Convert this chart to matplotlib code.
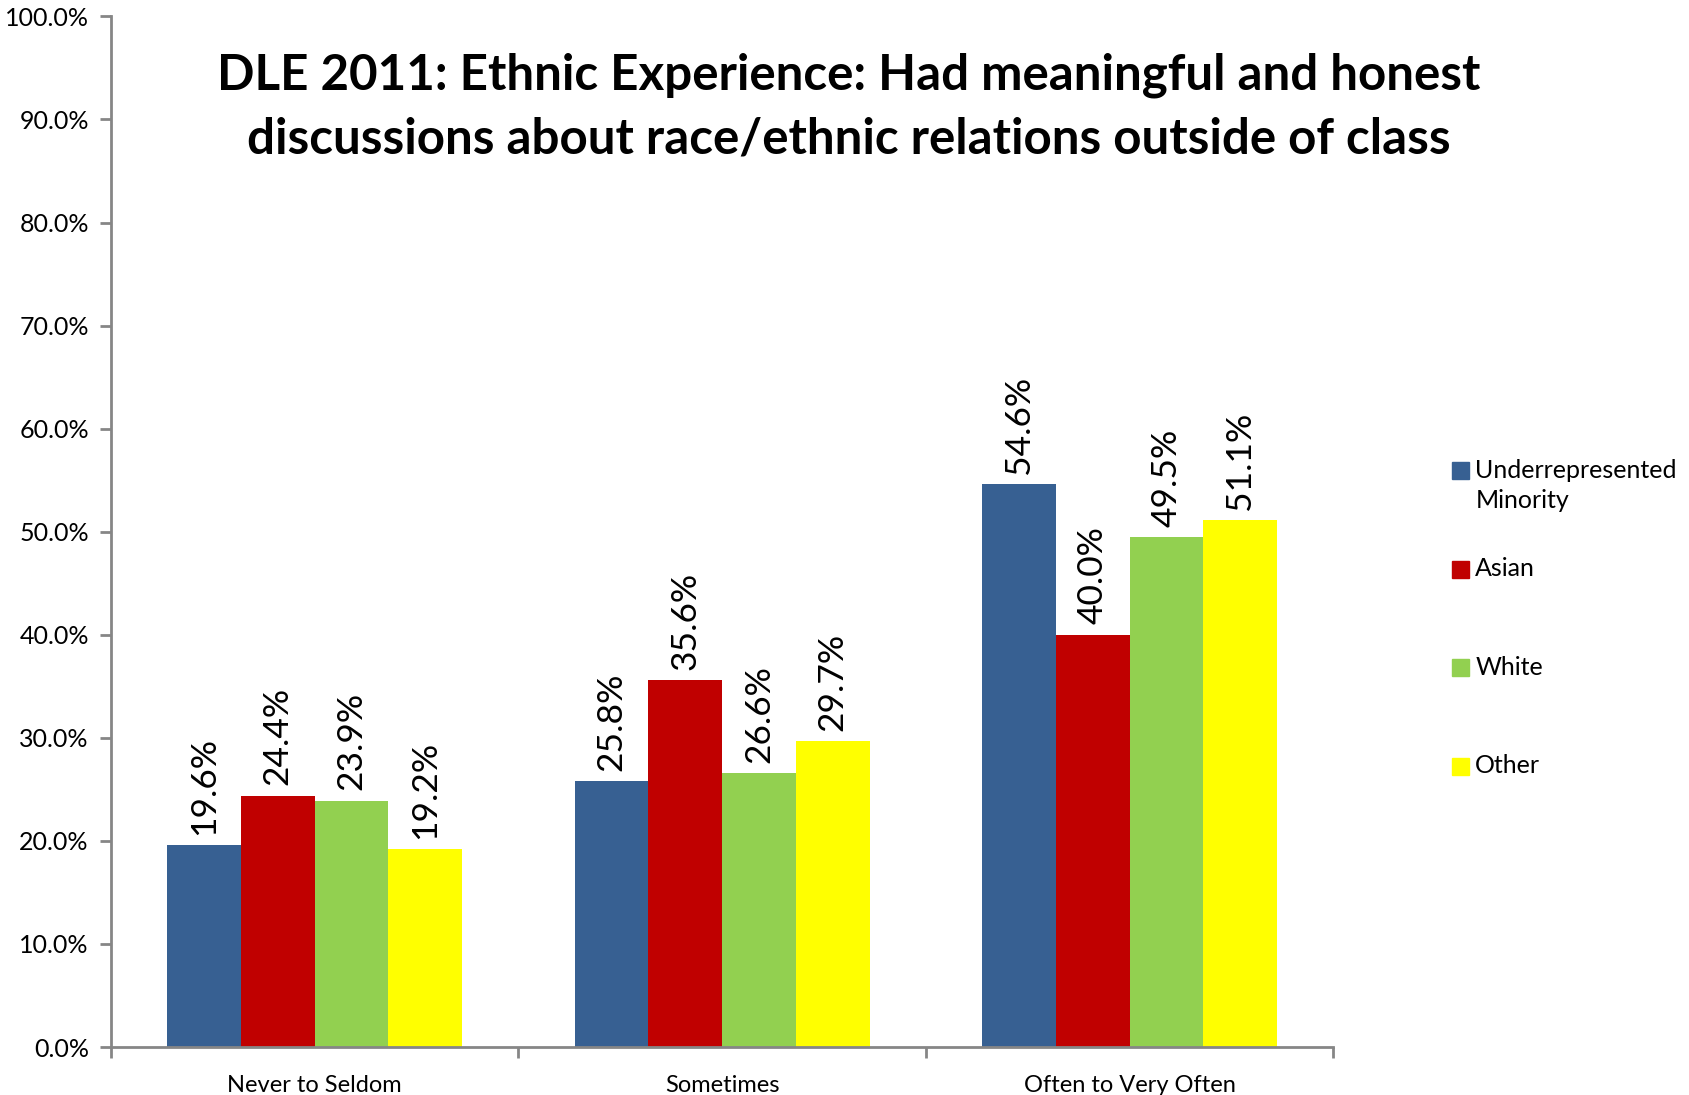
import numpy as np
import matplotlib.pyplot as plt
from matplotlib.patches import Rectangle

plt.rcParams['font.family'] = ['Lato', 'DejaVu Sans']

categories = ["Never to Seldom", "Sometimes", "Often to Very Often"]
groups = ["Underrepresented\nMinority", "Asian", "White", "Other"]
urm = [19.6, 25.8, 54.6]
asian = [24.4, 35.6, 40.0]
white = [23.9, 26.6, 49.5]
other = [19.2, 29.7, 51.1]
series = [urm, asian, white, other]
colors = ["#376092", "#C00000", "#92D050", "#FFFF00"]

fig = plt.figure(figsize=(16.9, 10.95), dpi=100)
ax = fig.add_axes([0.0657, 0.0438, 0.7232, 0.9412])

x = np.arange(len(categories))
w = 0.181
for i, (vals, c) in enumerate(zip(series, colors)):
    pos = x + (i - 1.5) * w
    bars = ax.bar(pos, vals, w, color=c)
    for b, v in zip(bars, vals):
        ax.text(b.get_x() + w / 2, v + 1.0, f"{v:.1f}%", rotation=90,
                ha="center", va="bottom", fontsize=25.5)

ax.set_xlim(-0.5, 2.5)
ax.set_ylim(0, 100)
ax.set_yticks(np.arange(0, 101, 10))
ax.set_yticklabels([f"{t:.1f}%" for t in np.arange(0, 101, 10)], fontsize=18)
ax.set_xticks([-0.5, 0.5, 1.5, 2.5])
ax.set_xticklabels([])
ax.set_xticks(x, minor=True)
ax.set_xticklabels(categories, minor=True, fontsize=17)
ax.tick_params(axis="x", which="minor", length=0, pad=20)
ax.tick_params(axis="x", which="major", length=8, color="#868686", width=2)
ax.tick_params(axis="y", length=8, color="#868686", width=2, pad=8)
for s in ["top", "right"]:
    ax.spines[s].set_visible(False)
for s in ["left", "bottom"]:
    ax.spines[s].set_color("#868686")
    ax.spines[s].set_linewidth(2)

fig.text(0.502, 0.902, "DLE 2011: Ethnic Experience: Had meaningful and honest\n"
         "discussions about race/ethnic relations outside of class",
         ha="center", va="center", fontsize=35.5, fontweight="bold",
         linespacing=1.5)

# legend, built by hand so the first square sits on the first text line
leg_y = [0.570, 0.480, 0.390, 0.300]
for lab, c, yy in zip(groups, colors, leg_y):
    fig.patches.append(Rectangle((0.859, yy - 0.0078), 0.0102, 0.0156,
                                 transform=fig.transFigure, color=c))
    fig.text(0.873, yy + 0.011, lab, ha="left", va="top", fontsize=18,
             linespacing=1.4)

fig.savefig("out.png", dpi=100, facecolor="white")
